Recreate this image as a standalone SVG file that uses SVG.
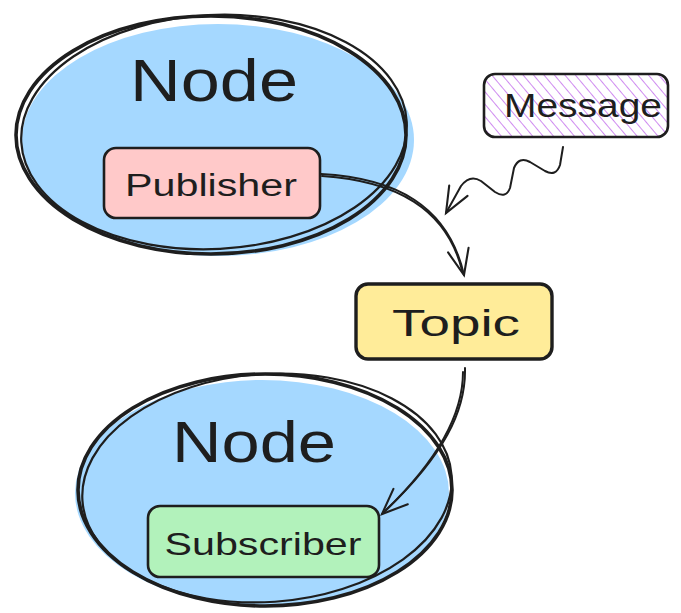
<svg xmlns="http://www.w3.org/2000/svg" width="681" height="613" viewBox="0 0 681 613">
<defs>
<pattern id="hatch" patternUnits="userSpaceOnUse" width="8" height="8" patternTransform="rotate(-40)">
<line x1="0" y1="0" x2="0" y2="8" stroke="#cf8cf0" stroke-width="2"/>
</pattern>
<marker id="arr" viewBox="0 0 20 20" refX="18" refY="10" markerWidth="30" markerHeight="30" markerUnits="userSpaceOnUse" orient="auto">
<path d="M1 3 L18 10 L1 17" fill="none" stroke="#1e1e1e" stroke-width="1.4" stroke-linecap="round"/>
</marker>
</defs>
<style>
.ol{fill:none;stroke:#1e1e1e;stroke-width:3.6;stroke-linecap:round}
.ol2{fill:none;stroke:#1e1e1e;stroke-width:2.2;stroke-linecap:round}
.box{stroke:#1e1e1e;stroke-width:2.6}
.txt{font-family:"Liberation Sans",sans-serif;fill:#1e1e1e;text-anchor:middle}
.con{fill:none;stroke:#1e1e1e;stroke-width:2;stroke-linecap:round;stroke-linejoin:round}
</style>
<rect width="681" height="613" fill="#ffffff"/>

<g id="node-top">
<ellipse cx="218" cy="140" rx="196" ry="116" fill="#a5d8ff"/>
<ellipse cx="211" cy="135" rx="195" ry="119" class="ol"/>
<ellipse cx="214" cy="132" rx="193" ry="117" class="ol2" transform="rotate(-3 214 132)"/>
<text class="txt" x="214" y="101" font-size="60" textLength="168" lengthAdjust="spacingAndGlyphs">Node</text>
</g>

<g id="publisher">
<rect x="104" y="148" width="216" height="70" rx="12" fill="#ffc9c9" class="box"/>
<text class="txt" x="211" y="196" font-size="31" textLength="172" lengthAdjust="spacingAndGlyphs">Publisher</text>
</g>

<g id="message">
<rect x="484" y="74" width="184" height="63" rx="11" fill="#ffffff"/>
<rect x="484" y="74" width="184" height="63" rx="11" fill="url(#hatch)" class="box"/>
<text class="txt" x="583" y="117" font-size="33" textLength="158" lengthAdjust="spacingAndGlyphs">Message</text>
</g>

<g id="topic">
<rect x="356" y="284" width="196" height="75" rx="12" fill="#ffec99" stroke="#1e1e1e" stroke-width="3.4"/>
<text class="txt" x="456" y="336" font-size="37" textLength="128" lengthAdjust="spacingAndGlyphs">Topic</text>
</g>

<g id="node-bottom">
<ellipse cx="262" cy="493" rx="187" ry="113" fill="#a5d8ff"/>
<ellipse cx="265" cy="490" rx="187" ry="116" class="ol"/>
<ellipse cx="267" cy="488" rx="185" ry="114" class="ol2" transform="rotate(-4 267 488)"/>
<text class="txt" x="254" y="462" font-size="58" textLength="164" lengthAdjust="spacingAndGlyphs">Node</text>
</g>

<g id="subscriber">
<rect x="148" y="506" width="231" height="71" rx="12" fill="#b2f2bb" class="box"/>
<text class="txt" x="263" y="555" font-size="32" textLength="197" lengthAdjust="spacingAndGlyphs">Subscriber</text>
</g>

<g id="connectors">
<path class="con" d="M321 174 C 395 178, 448 205, 464 275" marker-end="url(#arr)"/>
<path class="con" d="M322 176 C 396 181, 446 208, 462 270"/>
<path class="con" stroke-width="2.4" d="M563 147 L 560 165 Q 556 177 545 171 L 530 162 Q 519 156 514 168 L 510 188 Q 506 199 495 192 L 481 181 Q 470 174 461 186 L 446 213" marker-end="url(#arr)"/>
<path class="con" d="M465 368 C 466 410, 445 455, 382 514" marker-end="url(#arr)"/>
<path class="con" d="M463 372 C 463 412, 441 457, 386 510"/>
</g>
</svg>
